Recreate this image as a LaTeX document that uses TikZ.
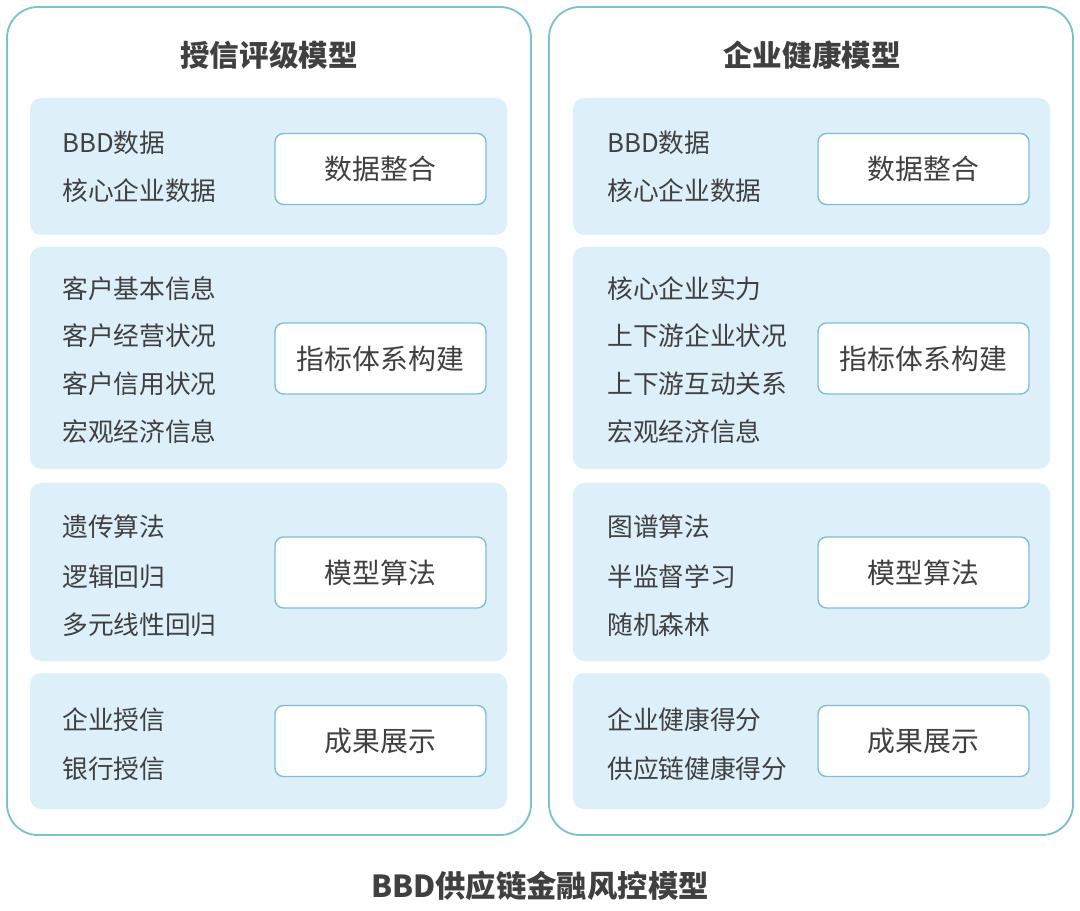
\documentclass[tikz,border=0pt]{standalone}
\usepackage{fontspec}
\setmainfont{Noto Sans CJK SC}
\usepackage{tikz}
\usetikzlibrary{positioning,calc}
\definecolor{frameblue}{RGB}{125,192,208}
\definecolor{panelblue}{RGB}{221,240,250}
\definecolor{textgray}{RGB}{64,64,64}

\tikzset{
  outer/.style={draw=frameblue, line width=1.3pt, fill=white, rounded corners=22pt},
  panel/.style={fill=panelblue, rounded corners=8pt},
  stagebox/.style={draw=frameblue, line width=1pt, fill=white, rounded corners=6pt,
    minimum width=211*0.025cm, minimum height=71*0.025cm,
    font=\fontsize{19.8pt}{22pt}\selectfont, text=textgray},
  item/.style={anchor=west, font=\fontsize{18.3pt}{20pt}\selectfont, text=textgray, inner sep=0pt},
  heading/.style={font=\fontsize{21pt}{24pt}\selectfont\bfseries, text=textgray}
}

\begin{document}
\begin{tikzpicture}[x=0.025cm, y=-0.025cm]
    \useasboundingbox (0,0) rectangle (1080,911);

    % Two outer frames
    \draw[outer] (7,7) rectangle (531,835);
    \draw[outer] (549,7) rectangle (1073,835);

    \node[heading] (lefttitle) at (269,55) {授信评级模型};
    \node[heading] (righttitle) at (812,55) {企业健康模型};

    % Panels in both frames
    \foreach \dx/\side in {0/L, 543/R} {
        \fill[panel] (30+\dx,98) rectangle (507+\dx,235);
        \fill[panel] (30+\dx,247) rectangle (507+\dx,469);
        \fill[panel] (30+\dx,483) rectangle (507+\dx,661);
        \fill[panel] (30+\dx,673) rectangle (507+\dx,809);

        \node[stagebox] (merge\side) at (380.5+\dx,169) {数据整合};
        \node[stagebox] (index\side) at (380.5+\dx,358.5) {指标体系构建};
        \node[stagebox] (algo\side) at (380.5+\dx,572.5) {模型算法};
        \node[stagebox] (result\side) at (380.5+\dx,741) {成果展示};
    }

    % Left items
    \node[item] (l1a) at (62,143) {BBD数据};
    \node[item] (l1b) at (62,191) {核心企业数据};
    \node[item] (l2a) at (62,289) {客户基本信息};
    \node[item] (l2b) at (62,336) {客户经营状况};
    \node[item] (l2c) at (62,384) {客户信用状况};
    \node[item] (l2d) at (62,432) {宏观经济信息};
    \node[item] (l3a) at (62,527) {遗传算法};
    \node[item] (l3b) at (62,577) {逻辑回归};
    \node[item] (l3c) at (62,625) {多元线性回归};
    \node[item] (l4a) at (62,720) {企业授信};
    \node[item] (l4b) at (62,769) {银行授信};

    % Right items
    \node[item] (r1a) at (607,143) {BBD数据};
    \node[item] (r1b) at (607,191) {核心企业数据};
    \node[item] (r2a) at (607,289) {核心企业实力};
    \node[item] (r2b) at (607,336) {上下游企业状况};
    \node[item] (r2c) at (607,384) {上下游互动关系};
    \node[item] (r2d) at (607,432) {宏观经济信息};
    \node[item] (r3a) at (607,527) {图谱算法};
    \node[item] (r3b) at (607,577) {半监督学习};
    \node[item] (r3c) at (607,625) {随机森林};
    \node[item] (r4a) at (607,720) {企业健康得分};
    \node[item] (r4b) at (607,769) {供应链健康得分};

    \node[heading, font=\fontsize{21.6pt}{24pt}\selectfont\bfseries] (caption) at (540,886) {BBD供应链金融风控模型};
\end{tikzpicture}
\end{document}
